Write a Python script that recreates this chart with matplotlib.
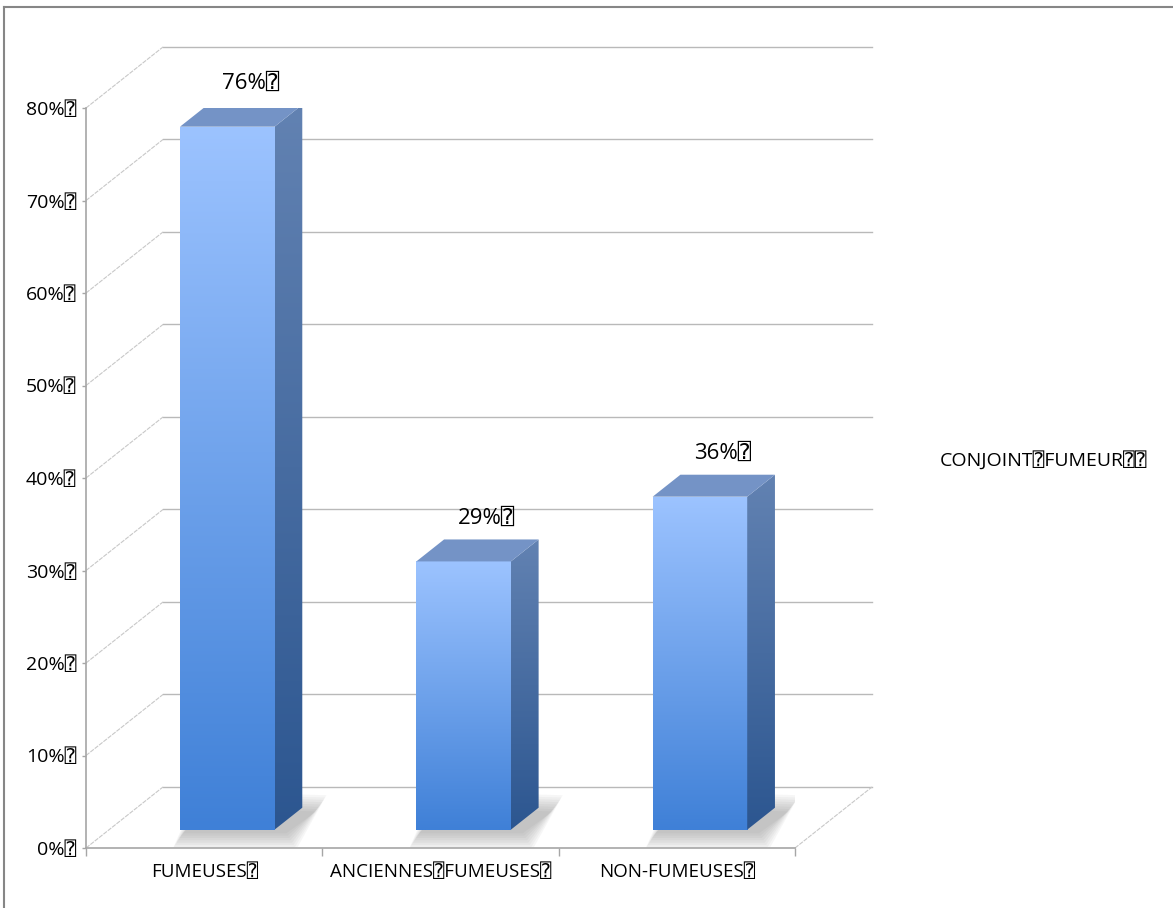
import numpy as np
import matplotlib
matplotlib.use('Agg')
import matplotlib.pyplot as plt
from matplotlib.patches import Polygon
from matplotlib.lines import Line2D
from matplotlib.colors import LinearSegmentedColormap

plt.rcParams['font.family'] = ['Open Sans', 'DejaVu Sans', 'DejaVu Sans Mono']

BOX = '\u2370'   # the placeholder glyph the source shows instead of spaces

categories = ['FUMEUSES', 'ANCIENNES FUMEUSES', 'NON-FUMEUSES']
values = [76, 29, 36]
y_ticks = [0, 10, 20, 30, 40, 50, 60, 70, 80]
series_name = 'CONJOINT FUMEUR'

GRID = '#b9b9b9'
DIAG = '#c8c8c8'
AXIS = '#a6a6a6'

# 3D look: depth offset of the back wall, in data units (categories, percent)
DX, DY = 0.326, 6.6
D0, D1 = 0.30, 0.66        # bar front / back as a fraction of full depth
BAR_W = 0.40


def lab(s, tail=1):
   return s.replace(' ', BOX) + BOX * tail


fig = plt.figure(figsize=(11.73, 9.08), dpi=100)
ax = fig.add_axes([86 / 1173, 60 / 908, 709 / 1173, 740 / 908])

# back wall gridlines and the thin depth lines joining them to the axis
for t in y_ticks:
   ax.plot([DX, 3 + DX], [t + DY, t + DY], color=GRID, lw=1.0,
           clip_on=False, zorder=1)
   ax.plot([0, DX], [t, t + DY], color=DIAG, lw=0.8, ls=(0, (4, 1)),
           clip_on=False, zorder=1)
ax.plot([3, 3 + DX], [0, DY], color=DIAG, lw=0.8, ls=(0, (4, 1)),
        clip_on=False, zorder=1)

grad = np.linspace(0, 1, 256).reshape(-1, 1)
front_cmap = LinearSegmentedColormap.from_list('front', ['#3f80d7', '#9cc3ff'])
side_cmap = LinearSegmentedColormap.from_list('side', ['#2c5690', '#6282b2'])

for i, v in enumerate(values):
   xc = i + 0.5
   x0 = xc - BAR_W / 2 + D0 * DX
   x1 = xc + BAR_W / 2 + D0 * DX
   y0 = D0 * DY
   y1 = v + D0 * DY
   sx, sy = (D1 - D0) * DX, (D1 - D0) * DY

   # soft floor shadow
   for k in range(8):
      e = 0.006 * k
      ey = 0.25 * k
      shadow = Polygon([(x0 - e + 0.01, y0 - 0.4 - ey), (x1 + e + 0.05, y0 - 0.4 - ey),
                        (x1 + sx + e + 0.06, y0 + sy - 0.4 + ey),
                        (x0 + sx - e, y0 + sy + ey)],
                       closed=True, facecolor='#666666', edgecolor='none',
                       alpha=0.055, zorder=2)
      ax.add_patch(shadow)

   # front face
   ax.imshow(grad, cmap=front_cmap, extent=[x0, x1, y0, y1], origin='lower',
             aspect='auto', interpolation='bilinear', zorder=3)

   # side face
   side = Polygon([(x1, y0), (x1 + sx, y0 + sy), (x1 + sx, y1 + sy), (x1, y1)],
                  closed=True, facecolor='none', edgecolor='none')
   ax.add_patch(side)
   im = ax.imshow(grad, cmap=side_cmap, extent=[x1, x1 + sx, y0, y1 + sy],
                  origin='lower', aspect='auto', interpolation='bilinear',
                  zorder=3)
   im.set_clip_path(side)

   # top face
   ax.add_patch(Polygon([(x0, y1), (x1, y1), (x1 + sx, y1 + sy), (x0 + sx, y1 + sy)],
                        closed=True, facecolor='#7493c6', edgecolor='none',
                        zorder=4))

   ax.text(xc + D1 * DX - 0.02, y1 + sy + 1.2, f'{v}%{BOX}', ha='center',
           va='bottom', fontsize=16, color='black', zorder=5)

ax.set_xlim(0, 3)
ax.set_ylim(0, 80)

for s in ('top', 'right'):
   ax.spines[s].set_visible(False)
for s in ('left', 'bottom'):
   ax.spines[s].set_color(AXIS)
   ax.spines[s].set_linewidth(1.2)

ax.set_yticks(y_ticks)
ax.set_yticklabels([f'{t}%{BOX}' for t in y_ticks])
ax.tick_params(axis='y', length=3, width=1, color=AXIS, pad=4, labelsize=14)

ax.set_xticks([0, 1, 2, 3])
ax.set_xticklabels([])
ax.set_xticks([0.5, 1.5, 2.5], minor=True)
ax.set_xticklabels([lab(c) for c in categories], minor=True)
ax.tick_params(axis='x', which='major', length=6, width=1, color=AXIS)
ax.tick_params(axis='x', which='minor', length=0, pad=11, labelsize=13.5)

fig.text(940 / 1173, 1 - 460 / 908, lab(series_name, 2), fontsize=14,
         va='center', ha='left')

# outer chart frame (only top and left edges fall inside the picture)
fig.add_artist(Line2D([4 / 1173, 4 / 1173], [0, 1 - 7 / 908], color='#868686', lw=1.5))
fig.add_artist(Line2D([4 / 1173, 1], [1 - 7 / 908, 1 - 7 / 908], color='#868686', lw=1.5))

fig.savefig('out.png', dpi=100)
